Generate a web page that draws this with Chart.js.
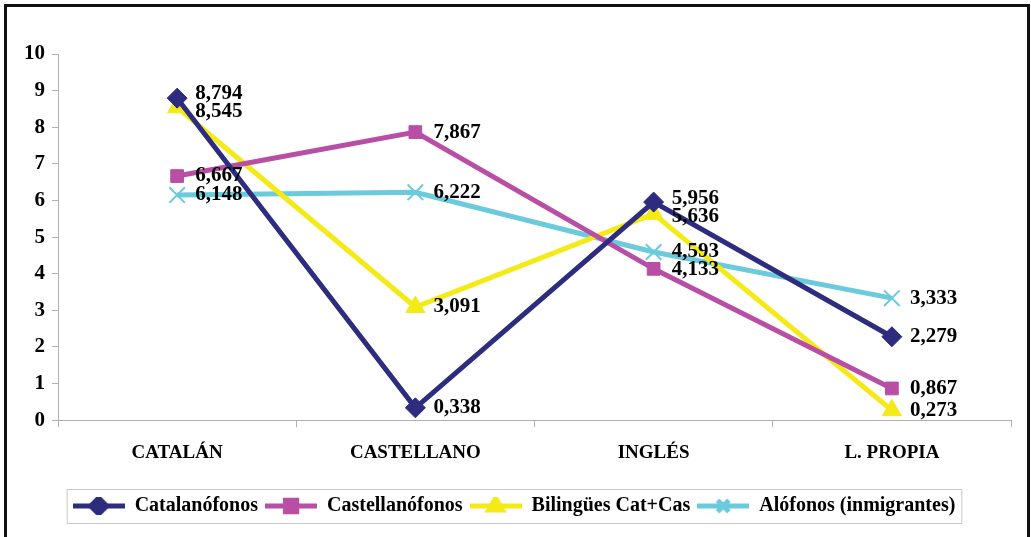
<!DOCTYPE html>
<html>
<head>
<meta charset="utf-8">
<script src="https://cdn.jsdelivr.net/npm/chart.js@4.4.0/dist/chart.umd.min.js"></script>
<style>
  body { margin: 0; background: #fff; }
  #wrap { position: relative; width: 1031px; height: 537px; overflow: hidden; }
  #frame { position: absolute; left: 4px; top: 4px; width: 1020px; height: 545px; border: 3px solid #111; pointer-events: none; }
</style>
</head>
<body>
<div id="wrap">
  <canvas id="chart" width="1031" height="537"></canvas>
  <div id="frame"></div>
</div>
<script>
const categories = ['CATALÁN', 'CASTELLANO', 'INGLÉS', 'L. PROPIA'];
const catalanofonos = [8.794, 0.338, 5.956, 2.279];
const castellanofonos = [6.667, 7.867, 4.133, 0.867];
const bilingues = [8.545, 3.091, 5.636, 0.273];
const alofonos = [6.148, 6.222, 4.593, 3.333];
const yTicks = [0, 1, 2, 3, 4, 5, 6, 7, 8, 9, 10];

const serif = "'Liberation Serif', 'Times New Roman', serif";

// legend swatch: line with marker in the middle
function swatch(color, style) {
  const c = document.createElement('canvas');
  c.width = 52; c.height = 18;
  const g = c.getContext('2d');
  g.strokeStyle = color; g.fillStyle = color;
  g.lineWidth = 5;
  g.beginPath(); g.moveTo(0, 9); g.lineTo(52, 9); g.stroke();
  Chart.helpers.drawPoint(g, {pointStyle: style, radius: 8, rotation: 0, borderWidth: style === 'crossRot' ? 2 : 1}, 26, 9);
  return c;
}

function ds(label, data, color, style, radius) {
  return {
    label: label,
    data: data,
    borderColor: color,
    backgroundColor: color,
    borderWidth: 5,
    pointStyle: style,
    pointRadius: radius,
    pointBorderWidth: style === 'crossRot' ? 2 : 1,
    pointHoverRadius: radius,
    tension: 0,
    legendImg: swatch(color, style)
  };
}

const valueLabels = {
  id: 'valueLabels',
  afterDatasetsDraw(chart) {
    const ctx = chart.ctx;
    ctx.save();
    ctx.font = 'bold 21px ' + serif;
    ctx.fillStyle = '#000';
    ctx.textBaseline = 'middle';
    ctx.textAlign = 'left';
    for (let i = 0; i < categories.length; i++) {
      const items = [];
      chart.data.datasets.forEach((d, k) => {
        const el = chart.getDatasetMeta(k).data[i];
        items.push({x: el.x, y: el.y, text: d.data[i].toFixed(3).replace('.', ',')});
      });
      items.sort((a, b) => a.y - b.y);
      // push apart labels that would overlap
      for (let pass = 0; pass < 5; pass++) {
        for (let j = 1; j < items.length; j++) {
          const gap = items[j].y - items[j - 1].y;
          if (gap < 18) {
            const d = (18 - gap) / 2;
            items[j - 1].y -= d;
            items[j].y += d;
          }
        }
      }
      items.forEach(it => ctx.fillText(it.text, it.x + 18, it.y));
    }
    ctx.restore();
  }
};

const legendBox = {
  id: 'legendBox',
  afterDraw(chart) {
    const hb = chart.legend.legendHitBoxes;
    if (!hb || !hb.length) return;
    const ctx = chart.ctx;
    const x0 = hb[0].left - 6, x1 = hb[hb.length - 1].left + hb[hb.length - 1].width + 6;
    const y0 = hb[0].top - 7, y1 = hb[0].top + hb[0].height + 7;
    ctx.save();
    ctx.strokeStyle = '#c8c8c8';
    ctx.lineWidth = 1;
    ctx.strokeRect(x0 + 0.5, y0 + 0.5, x1 - x0, y1 - y0);
    ctx.restore();
  }
};

new Chart(document.getElementById('chart'), {
  type: 'line',
  data: {
    labels: categories,
    datasets: [
      ds('Catalanófonos', catalanofonos, '#2D2C7E', 'rectRot', 10),
      ds('Castellanófonos', castellanofonos, '#B84FA5', 'rect', 9),
      ds('Bilingües Cat+Cas', bilingues, '#F4EA17', 'triangle', 11),
      ds('Alófonos (inmigrantes)', alofonos, '#6BCADC', 'crossRot', 11)
    ]
  },
  options: {
    responsive: false,
    animation: false,
    events: [],
    layout: { padding: { left: 17, right: 20, top: 54, bottom: 11 } },
    plugins: {
      tooltip: { enabled: false },
      legend: {
        position: 'bottom',
        labels: {
          usePointStyle: true,
          pointStyleWidth: 52,
          padding: 7,
          color: '#000',
          font: { family: serif, size: 20, weight: 'bold' },
          generateLabels(chart) {
            return chart.data.datasets.map((d, i) => ({
              text: d.label,
              pointStyle: d.legendImg,
              fillStyle: d.borderColor,
              strokeStyle: d.borderColor,
              lineWidth: 0,
              hidden: false,
              datasetIndex: i,
              fontColor: '#000'
            }));
          }
        }
      }
    },
    scales: {
      x: {
        offset: true,
        afterFit(axis) { axis.height += 11; },
        grid: { display: true, drawOnChartArea: false, offset: true, tickLength: 7, color: '#b0b0b0' },
        border: { color: '#b0b0b0' },
        ticks: { color: '#000', padding: 14, font: { family: serif, size: 19, weight: 'bold' } }
      },
      y: {
        min: 0,
        max: 10,
        afterBuildTicks(axis) { axis.ticks = yTicks.map(v => ({value: v})); },
        grid: { display: true, drawOnChartArea: false, tickLength: 6, color: '#b0b0b0' },
        border: { color: '#b0b0b0' },
        ticks: { color: '#000', padding: 7, font: { family: serif, size: 21, weight: 'bold' } }
      }
    }
  },
  plugins: [valueLabels, legendBox]
});
</script>
</body>
</html>
